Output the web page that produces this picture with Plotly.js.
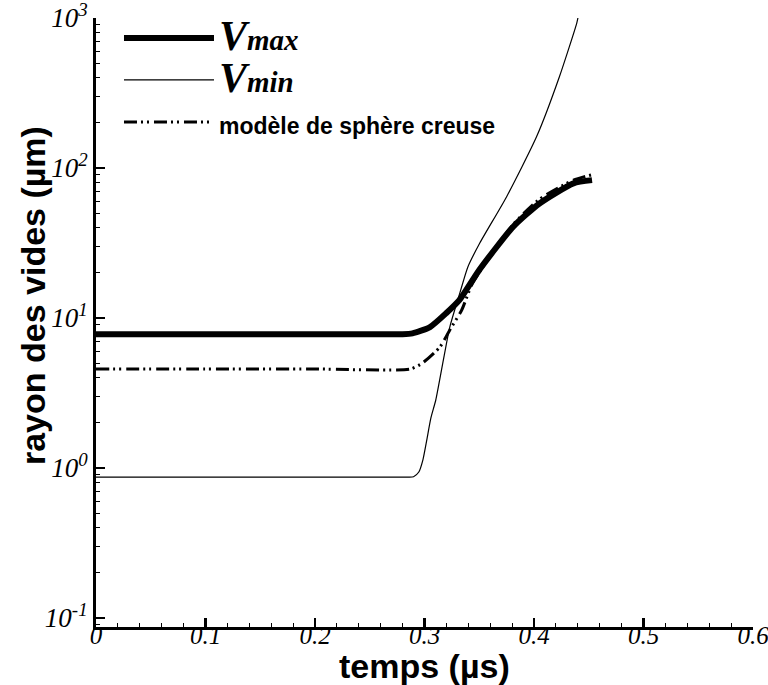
<!DOCTYPE html>
<html>
<head>
<meta charset="utf-8">
<script src="https://cdn.plot.ly/plotly-3.0.1.min.js"></script>
<style>html,body{margin:0;padding:0;background:#fff;}#chart{width:768px;height:685px;}</style>
</head>
<body>
<div id="chart"></div>
<script>
// Data (time in µs, radius in µm)
const tMax = [0, 0.10, 0.20, 0.28, 0.289, 0.305, 0.320, 0.332, 0.350, 0.381, 0.405, 0.436, 0.453];
const vMax = [7.8, 7.8, 7.8, 7.8, 7.9, 8.7, 10.8, 13.2, 20.9, 40.6, 58, 79, 83];

const tMin = [0, 0.10, 0.20, 0.285, 0.290, 0.2948, 0.2985, 0.3021, 0.3058, 0.3103, 0.3167, 0.3231, 0.3323, 0.3396, 0.3505, 0.375, 0.4024, 0.4232, 0.439, 0.4401];
const vMin = [0.87, 0.87, 0.87, 0.87, 0.875, 0.94, 1.13, 1.54, 2.15, 2.84, 5.0, 8.7, 14.7, 21.9, 31.6, 64.4, 162, 406, 922, 1000];

const tModel = [0, 0.10, 0.20, 0.287, 0.298, 0.314, 0.323, 0.334, 0.344, 0.381, 0.405, 0.436, 0.455];
const vModel = [4.57, 4.57, 4.57, 4.57, 5.0, 6.4, 8.3, 11.3, 17.1, 42, 62, 83, 91];

const xTicks = [0, 0.1, 0.2, 0.3, 0.4, 0.5, 0.6];
const xTickText = ['0', '0.1', '0.2', '0.3', '0.4', '0.5', '0.6'];
const yTicks = [0.1, 1, 10, 100, 1000];
const yTickText = ['10<sup>-1</sup>', '10<sup>0</sup>', '10<sup>1</sup>', '10<sup>2</sup>', '10<sup>3</sup>'];

const xTitle = '<b>temps (µs)</b>';
const yTitle = '<b>rayon des vides (µm)</b>';

const nameMax = '<b><i><span style="font-size:42px">V</span><span style="font-size:29px">max</span></i></b>';
const nameMin = '<b><i><span style="font-size:42px">V</span><span style="font-size:29px">min</span></i></b>';
const nameModel = '<span style="font-family:Liberation Sans, Arial;font-size:23px;font-weight:bold">modèle de sphère creuse</span>';

const traces = [
  {x: tMax, y: vMax, mode: 'lines', name: nameMax, line: {color: '#000', width: 6, shape: 'spline', smoothing: 0.6}},
  {x: tMin, y: vMin, mode: 'lines', name: nameMin, line: {color: '#000', width: 1.2, shape: 'spline', smoothing: 0.6}},
  {x: tModel, y: vModel, mode: 'lines', name: nameModel, line: {color: '#000', width: 3, dash: '13px,4px,2px,4px,2px,5px', shape: 'spline', smoothing: 0.6}}
];

const layout = {
  width: 768, height: 685,
  margin: {l: 96, r: 15, t: 18, b: 58},
  paper_bgcolor: '#fff', plot_bgcolor: '#fff',
  showlegend: true,
  legend: {x: 0.035, y: 1.01, xanchor: 'left', yanchor: 'top', bgcolor: 'rgba(0,0,0,0)',
           font: {family: 'Liberation Serif', size: 30, color: '#000'}, itemwidth: 90, tracegroupgap: 0},
  xaxis: {
    range: [0, 0.6], tickvals: xTicks, ticktext: xTickText,
    ticks: 'inside', ticklen: 9, tickwidth: 2.5, tickcolor: '#000',
    showline: true, linewidth: 3, linecolor: '#000', mirror: false,
    showgrid: false, zeroline: false,
    ticklabeloverflow: 'allow', ticklabelstandoff: -16,
    tickfont: {family: 'Liberation Serif', size: 25, style: 'italic', color: '#000'},
    minor: {dtick: 0.02, ticks: 'inside', ticklen: 4, tickwidth: 1, tickcolor: '#000', showgrid: false}
  },
  yaxis: {
    type: 'log', range: [-1.06, 3], tickvals: yTicks, ticktext: yTickText,
    ticks: 'inside', ticklen: 9, tickwidth: 2.5, tickcolor: '#000',
    showline: true, linewidth: 3, linecolor: '#000', mirror: false,
    showgrid: false, zeroline: false,
    ticklabeloverflow: 'allow',
    tickfont: {family: 'Liberation Serif', size: 27, style: 'italic', color: '#000'},
    minor: {dtick: 'D1', ticks: 'inside', ticklen: 4, tickwidth: 1, tickcolor: '#000', showgrid: false}
  },
  annotations: [{
    text: yTitle, xref: 'paper', yref: 'paper', x: -0.096, y: 0.545,
    xanchor: 'center', yanchor: 'middle', textangle: -90, showarrow: false,
    font: {family: 'Liberation Sans', size: 34, color: '#000'}
  }, {
    text: xTitle, xref: 'paper', yref: 'paper', x: 0.5, y: -0.0975,
    xanchor: 'center', yanchor: 'bottom', showarrow: false, borderpad: 0,
    font: {family: 'Liberation Sans', size: 34, color: '#000'}
  }]
};

Plotly.newPlot('chart', traces, layout, {displayModeBar: false, staticPlot: true});
</script>
</body>
</html>
